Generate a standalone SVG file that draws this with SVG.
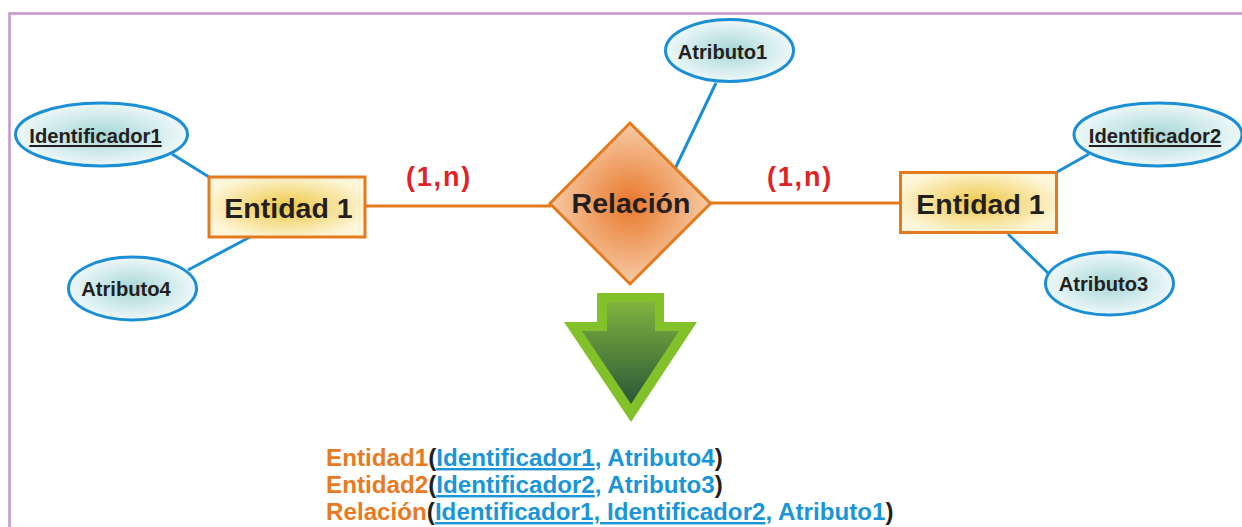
<svg xmlns="http://www.w3.org/2000/svg" width="1242" height="527" viewBox="0 0 1242 527">
  <defs>
    <radialGradient id="gAttr" cx="50%" cy="50%" r="50%">
      <stop offset="0" stop-color="#a6d6d7"/>
      <stop offset="1" stop-color="#eef8f8"/>
    </radialGradient>
    <radialGradient id="gEnt" cx="50%" cy="50%" r="55%">
      <stop offset="0" stop-color="#efc745"/>
      <stop offset="1" stop-color="#fdf6da"/>
    </radialGradient>
    <radialGradient id="gRel" cx="50%" cy="50%" r="50%">
      <stop offset="0" stop-color="#e8772a"/>
      <stop offset="1" stop-color="#f7cba6"/>
    </radialGradient>
    <linearGradient id="gArrow" x1="0" y1="0" x2="0" y2="1">
      <stop offset="0" stop-color="#80b33f"/>
      <stop offset="1" stop-color="#295738"/>
    </linearGradient>
    <style>
      .attr { fill: url(#gAttr); stroke: #1b8fd6; stroke-width: 3; }
      .ent { fill: url(#gEnt); stroke: #e47a1e; stroke-width: 3; }
      .rel { fill: url(#gRel); stroke: #e47a1e; stroke-width: 3; stroke-linejoin: miter; }
      .lbl { font-family: "Liberation Sans", Arial, sans-serif; font-weight: bold; fill: #231f20; text-anchor: middle; }
      .attr-t { font-size: 20.2px; }
      .key { text-decoration: underline; }
      .big { font-size: 28.5px; }
      .card { font-family: "Liberation Sans", Arial, sans-serif; font-weight: bold; font-size: 27px; fill: #e02425; letter-spacing: 1.8px; }
      .edge-o { stroke: #e47a1e; stroke-width: 3; fill: none; }
      .edge-b { stroke: #1b8fd6; stroke-width: 3; fill: none; }
      .frame { stroke: #c893cf; stroke-width: 2.5; fill: none; }
      .schema { font-family: "Liberation Sans", Arial, sans-serif; font-weight: bold; font-size: 24.2px; }
      .o { fill: #e87a22; }
      .b { fill: #1a95d7; }
      .k { fill: #231f20; }
    </style>
  </defs>

  <rect width="1242" height="527" fill="#ffffff"/>

  <!-- page frame -->
  <path class="frame" d="M9.5,527 V13.5 H1242"/>

  <!-- connectors -->
  <g id="connectors">
    <line class="edge-b" x1="172" y1="154" x2="209" y2="177"/>
    <line class="edge-b" x1="188" y1="270" x2="250" y2="237"/>
    <line class="edge-o" x1="365" y1="206" x2="551" y2="206"/>
    <line class="edge-o" x1="710" y1="203" x2="901" y2="203"/>
    <line class="edge-b" x1="716" y1="83" x2="674" y2="171"/>
    <line class="edge-b" x1="1089" y1="154" x2="1057" y2="172"/>
    <line class="edge-b" x1="1008" y1="234" x2="1048" y2="273"/>
  </g>

  <!-- left entity and its attributes -->
  <g id="identificador1">
    <ellipse class="attr" cx="101.5" cy="134.5" rx="86" ry="31.5"/>
    <text class="lbl attr-t key" x="95.5" y="143">Identificador1</text>
  </g>
  <g id="atributo4">
    <ellipse class="attr" cx="132.5" cy="288.5" rx="64" ry="31.5"/>
    <text class="lbl attr-t" x="126" y="296">Atributo4</text>
  </g>
  <g id="entidad-izq">
    <rect class="ent" x="209" y="177" width="156" height="60"/>
    <text class="lbl big" x="288.5" y="218">Entidad 1</text>
  </g>

  <!-- relationship -->
  <g id="relacion">
    <polygon class="rel" points="630,123 710.5,203.5 630,284 550,203.5"/>
    <text class="lbl big" x="631" y="213">Relación</text>
  </g>
  <g id="atributo1">
    <ellipse class="attr" cx="729.5" cy="50.5" rx="64" ry="31"/>
    <text class="lbl attr-t" x="722.5" y="59">Atributo1</text>
  </g>

  <!-- cardinalities -->
  <g id="cardinalidades">
    <text class="card" x="406" y="186">(1,n)</text>
    <text class="card" x="767" y="186">(1,n)</text>
  </g>

  <!-- right entity and its attributes -->
  <g id="entidad-der">
    <rect class="ent" x="900.5" y="172.5" width="156" height="60"/>
    <text class="lbl big" x="980.5" y="214">Entidad 1</text>
  </g>
  <g id="identificador2">
    <ellipse class="attr" cx="1158" cy="134.5" rx="84" ry="31.5"/>
    <text class="lbl attr-t key" x="1155" y="143">Identificador2</text>
  </g>
  <g id="atributo3">
    <ellipse class="attr" cx="1109.5" cy="283.5" rx="64" ry="31.5"/>
    <text class="lbl attr-t" x="1103.5" y="291">Atributo3</text>
  </g>

  <!-- transformation arrow -->
  <g id="flecha">
    <path d="M597,293 H664 V322 H697 L631,422 L564,322 H597 Z" fill="#82c12a"/>
    <path d="M607,302 H655 V331 H679 L631,404 L582,331 H607 Z" fill="url(#gArrow)"/>
  </g>

  <!-- relational schema -->
  <g id="esquema" class="schema">
    <text x="326" y="466"><tspan class="o">Entidad1</tspan><tspan class="k">(</tspan><tspan class="b key">Identificador1</tspan><tspan class="b">, Atributo4</tspan><tspan class="k">)</tspan></text>
    <text x="326" y="493"><tspan class="o">Entidad2</tspan><tspan class="k">(</tspan><tspan class="b key">Identificador2</tspan><tspan class="b">, Atributo3</tspan><tspan class="k">)</tspan></text>
    <text x="326" y="520"><tspan class="o">Relación</tspan><tspan class="k">(</tspan><tspan class="b key">Identificador1, Identificador2</tspan><tspan class="b">, Atributo1</tspan><tspan class="k">)</tspan></text>
  </g>
</svg>
